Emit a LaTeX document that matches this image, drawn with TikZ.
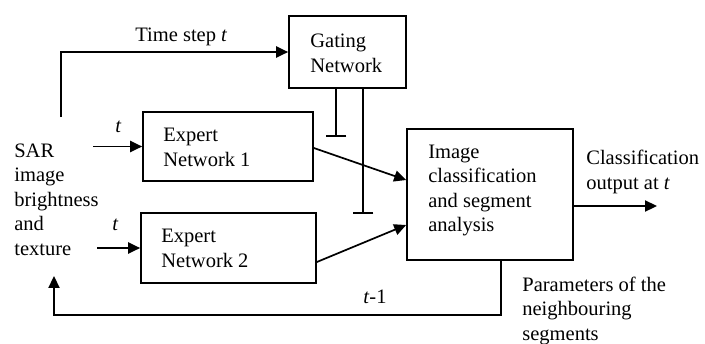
\documentclass[tikz,border=0pt]{standalone}
\usepackage{fontspec}
\setmainfont{Liberation Serif}
\usetikzlibrary{arrows.meta,calc}
\tikzset{
  txt/.style={inner sep=0pt, anchor=base west, align=left,
    font=\fontsize{12}{14.3}\selectfont},
  arr/.style={line width=1pt, -{Triangle[length=7pt,width=6.5pt]}},
  tee/.style={line width=1pt, -{Bar[width=12pt,line width=1pt]}}
}
\begin{document}
\begin{tikzpicture}[x=0.585pt,y=-0.585pt]
\useasboundingbox (0,0) rectangle (705,343);

% blocks
\node[draw, line width=1pt, minimum width=117*0.585pt, minimum height=72*0.585pt] (g)  at (347.5,52) {};
\node[draw, line width=1pt, minimum width=170*0.585pt, minimum height=69*0.585pt] (e1) at (228,146.5) {};
\node[draw, line width=1pt, minimum width=175*0.585pt, minimum height=70*0.585pt] (e2) at (228.5,248) {};
\node[draw, line width=1pt, minimum width=166*0.585pt, minimum height=131*0.585pt] (im) at (490,194.5) {};

% block texts (anchored at the baseline of their last line)
\node[txt] (gt)  at (310,72)  {Gating\\Network};
\node[txt] (e1t) at (163,166) {Expert\\Network 1};
\node[txt] (e2t) at (161,267) {Expert\\Network 2};
\node[txt] (imt) at (428,231.5) {Image\\classification\\and segment\\analysis};

% free labels
\node[txt] (sar) at (14,255) {SAR\\image\\brightness\\and\\texture};
\node[txt] (tsl) at (135,41) {Time step \textit{t}};
\node[txt] (t1)  at (115,132) {\textit{t}};
\node[txt] (t2)  at (112,230) {\textit{t}};
\node[txt] (tm1) at (363,303) {\textit{t}-1};
\node[txt] (cls) at (586,189) {Classification\\output at \textit{t}};
\node[txt] (par) at (522,340) {Parameters of the\\neighbouring\\segments};

% connector ends
\coordinate (ts)   at (61,117);
\coordinate (in1)  at (93,146.5);
\coordinate (in2)  at (97,248);
\coordinate (tee1) at (336,137);
\coordinate (tee2) at (363,214);
\coordinate (out)  at (657,206);
\coordinate (fb)   at (54,315);
\coordinate (fbe)  at (54,276);

% connectors
\draw[arr] (ts) |- (g.west);
\draw[arr] (in1) -- (e1.west);
\draw[arr] (in2) -- (e2.west);
\draw[tee] (g.south -| tee1) -- (tee1);
\draw[tee] (g.south -| tee2) -- (tee2);
\draw[arr] ($(e1.east)+(0,1.5)$) -- ($(im.west)+(0,-14.5)$);
\draw[arr] ($(e2.east)+(0,14)$) -- ($(im.west)+(0,30.5)$);
\draw[arr] ($(im.east)+(0,11.5)$) -- (out);
\draw[arr] ($(im.south)+(11,0)$) |- (fb) -- (fbe);
\end{tikzpicture}
\end{document}
